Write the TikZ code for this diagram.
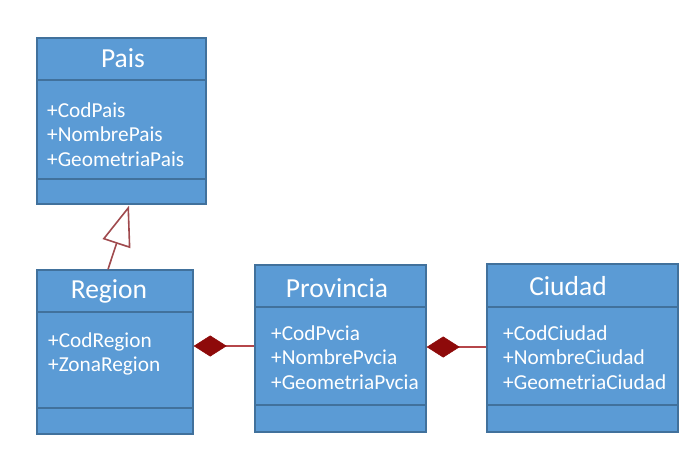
\documentclass[tikz,border=0pt]{standalone}
\usepackage{fontspec}
\setmainfont{Carlito}
\usetikzlibrary{arrows.meta,calc}
\definecolor{boxfill}{HTML}{5B9BD5}
\definecolor{boxline}{HTML}{41719C}
\definecolor{relline}{HTML}{B5464A}
\definecolor{diamondred}{HTML}{8E0A0A}
\definecolor{inhline}{HTML}{A04A4E}
\tikzset{
  umlbox/.style={draw=boxline, line width=1.4pt, fill=boxfill, inner sep=0pt},
  sep/.style={draw=boxline, line width=1.2pt},
  ttl/.style={text=white, font=\fontsize{27.5}{32}\selectfont, anchor=base, inner sep=0pt},
  attr/.style={text=white, font=\fontsize{21.3}{25}\selectfont, anchor=base west, inner sep=0pt},
  comp/.style={draw=relline, line width=2.4pt, -{Diamond[length=33pt,width=21pt,color=diamondred,fill=diamondred,line width=0.5pt]}},
  inh/.style={draw=inhline, line width=1.6pt, -{Triangle[open,length=40pt,width=29pt,line width=1.6pt,fill=white]}}
}
\begin{document}
\begin{tikzpicture}[x=1pt,y=-1pt]
\useasboundingbox[fill=white] (0,0) rectangle (694,448);
% boxes
\node[umlbox, minimum width=169pt, minimum height=166pt] (pais) at (121.5,121) {};
\node[umlbox, minimum width=156pt, minimum height=164pt] (region) at (115,352) {};
\node[umlbox, minimum width=171pt, minimum height=167pt] (prov) at (340.5,348.5) {};
\node[umlbox, minimum width=191pt, minimum height=168pt] (ciudad) at (582.5,348) {};
% separators
\draw[sep] (pais.west |- 0,80) -- (pais.east |- 0,80);
\draw[sep] (pais.west |- 0,179) -- (pais.east |- 0,179);
\draw[sep] (region.west |- 0,312) -- (region.east |- 0,312);
\draw[sep] (region.west |- 0,408) -- (region.east |- 0,408);
\draw[sep] (prov.west |- 0,307) -- (prov.east |- 0,307);
\draw[sep] (prov.west |- 0,405) -- (prov.east |- 0,405);
\draw[sep] (ciudad.west |- 0,307) -- (ciudad.east |- 0,307);
\draw[sep] (ciudad.west |- 0,405) -- (ciudad.east |- 0,405);
% titles
\node[ttl] (paist) at (123,67) {Pais};
\node[ttl] (regiont) at (109,298) {Region};
\node[ttl] (provt) at (337,297) {Provincia};
\node[ttl] (ciudadt) at (568,295) {Ciudad};
% attributes
\node[attr] (p1) at (47,117) {+CodPais};
\node[attr] (p2) at (47,141.5) {+NombrePais};
\node[attr] (p3) at (47,166) {+GeometriaPais};
\node[attr] (r1) at (48,347) {+CodRegion};
\node[attr] (r2) at (48,371.5) {+ZonaRegion};
\node[attr] (v1) at (271,340) {+CodPvcia};
\node[attr] (v2) at (271,364.5) {+NombrePvcia};
\node[attr] (v3) at (271,389) {+GeometriaPvcia};
\node[attr] (c1) at (503,340) {+CodCiudad};
\node[attr] (c2) at (503,364.5) {+NombreCiudad};
\node[attr] (c3) at (503,389) {+GeometriaCiudad};
% relations
\coordinate (inhs) at ($(region.north)+(-7,0)$);
\coordinate (inhe) at ($(pais.south)+(7.5,1)$);
\draw[inh] (inhs) -- (inhe);
\draw[comp] ([yshift=2.5pt]prov.west) -- ([yshift=2.5pt]prov.west -| region.east);
\draw[comp] ([yshift=1pt]ciudad.west) -- ([yshift=1pt]ciudad.west -| prov.east);
\end{tikzpicture}
\end{document}
